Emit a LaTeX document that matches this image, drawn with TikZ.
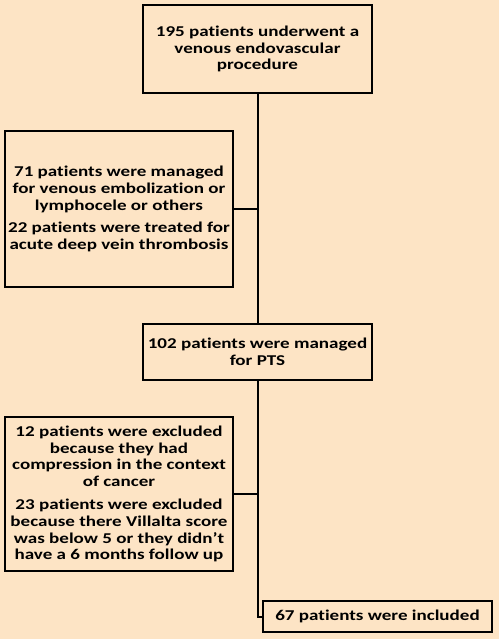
\documentclass[tikz,border=0pt]{standalone}
\usepackage{fontspec}
\setmainfont[FakeStretch=1.27,Ligatures=NoCommon]{Carlito}
\definecolor{bgpeach}{RGB}{253,228,197}
\tikzset{
  boxnode/.style={draw=black, line width=2pt, rectangle, align=center, inner sep=0pt,
    font=\fontsize{15}{16.8}\selectfont\bfseries},
  link/.style={draw=black, line width=2pt}
}
\begin{document}
\begin{tikzpicture}[x=1pt,y=-1pt]
\fill[bgpeach] (0,0) rectangle (499,639);
\useasboundingbox (0,0) rectangle (499,639);
\node[boxnode, minimum width=229pt, minimum height=88pt] (n1) at (257.5,49) {195 patients underwent a\\venous endovascular\\procedure};
\node[boxnode, minimum width=228pt, minimum height=156pt] (n2) at (119,209) {71 patients were managed\\for venous embolization or\\lymphocele or others\\[6pt]22 patients were treated for\\acute deep vein thrombosis};
\node[boxnode, minimum width=229pt, minimum height=56pt] (n3) at (257.5,352) {102 patients were managed\\for PTS};
\node[boxnode, minimum width=228pt, minimum height=154pt] (n4) at (119,494) {12 patients were excluded\\because they had\\compression in the context\\of cancer\\[6pt]23 patients were excluded\\because there Villalta score\\was below 5 or they didn\char"0027 t\\have a 6 months follow up};
\node[boxnode, minimum width=229pt, minimum height=31pt] (n5) at (377.5,616.5) {67 patients were included};
\draw[link] (n1.south) -- (n3.north);
\draw[link] (n2.east) -- (n2.east -| n1.south);
\draw[link] (n3.south) |- (n5.west);
\draw[link] (n4.east) -- (n4.east -| n3.south);
\end{tikzpicture}
\end{document}
